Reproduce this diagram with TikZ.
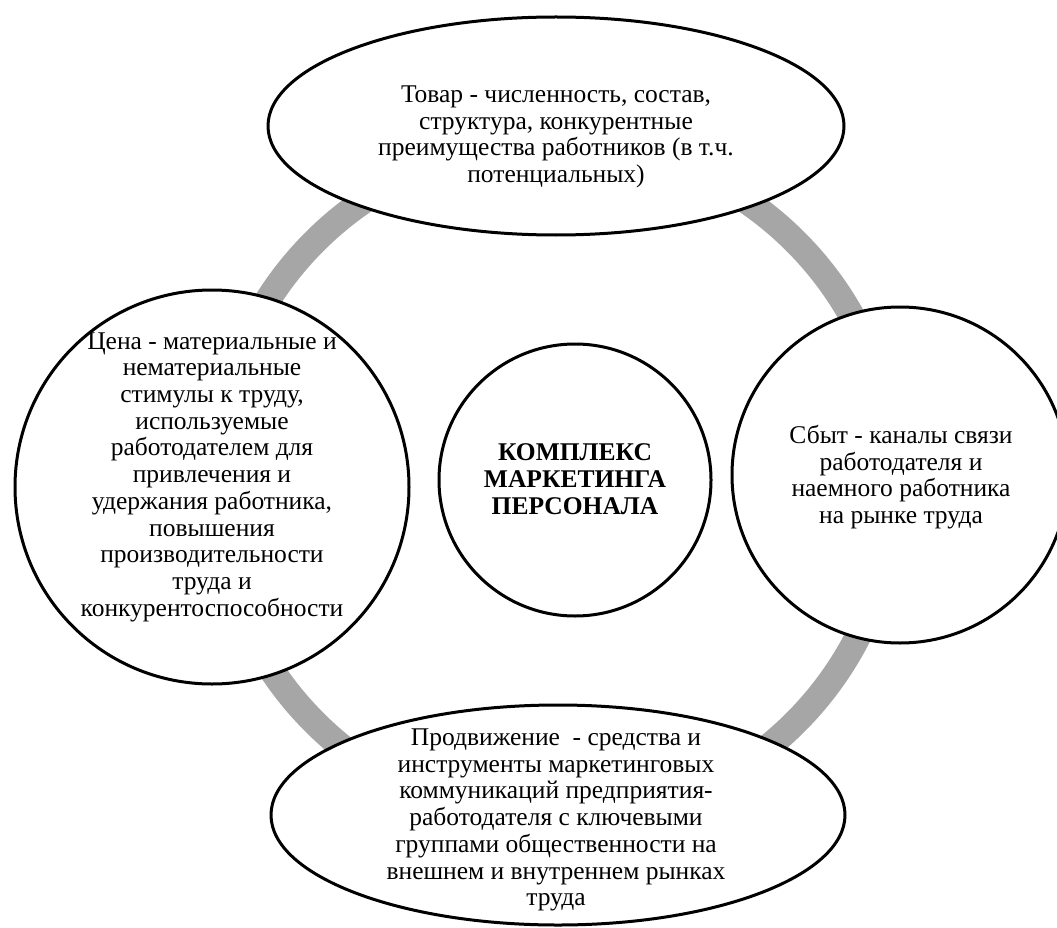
\documentclass[tikz,border=0pt]{standalone}
\usepackage{fontspec}
\setmainfont{Liberation Serif}
\usetikzlibrary{shapes.geometric}
\definecolor{ringgray}{RGB}{166,166,166}
\begin{document}
\begin{tikzpicture}[x=1pt,y=-1pt,
  blob/.style={draw=black, line width=3pt, fill=white, inner sep=0pt},
  txt/.style={align=center, font=\rmfamily\fontsize{25.5}{26.7}\selectfont, inner sep=0pt},
  ring/.style={draw=ringgray, line width=26pt}]
\useasboundingbox (0,0) rectangle (1057,928);
\coordinate (rc) at (555,482);
\draw[ring] (rc) circle[radius=340pt];
\node[blob, ellipse, minimum width=576pt, minimum height=218pt] (top) at (556,126) {};
\node[blob, ellipse, minimum width=574pt, minimum height=220pt] (bottom) at (558,815) {};
\node[blob, circle, minimum size=394pt] (left) at (212,487) {};
\node[blob, circle, minimum size=336pt] (right) at (900,475) {};
\node[blob, circle, minimum size=272pt] (center) at (575,480) {};
\node[txt] (toptxt) at (556,137) {Товар - численность, состав,\\ структура, конкурентные\\ преимущества работников (в т.ч.\\ потенциальных)};
\node[txt] (lefttxt) at (212,477) {Цена - материальные и\\ нематериальные\\ стимулы к труду,\\ используемые\\ работодателем для\\ привлечения и\\ удержания работника,\\ повышения\\ производительности\\ труда и\\ конкурентоспособности};
\node[txt, font=\rmfamily\fontsize{25.5}{26.7}\selectfont\bfseries] (centertxt) at (575,479) {КОМПЛЕКС\\ МАРКЕТИНГА\\ ПЕРСОНАЛА};
\node[txt] (righttxt) at (901,477) {Сбыт - каналы связи\\ работодателя и\\ наемного работника\\ на рынке труда};
\node[txt] (bottomtxt) at (556,820) {Продвижение\ \ - средства и\\ инструменты маркетинговых\\ коммуникаций предприятия-\\ работодателя с ключевыми\\ группами общественности на\\ внешнем и внутреннем рынках\\ труда};
\end{tikzpicture}
\end{document}
